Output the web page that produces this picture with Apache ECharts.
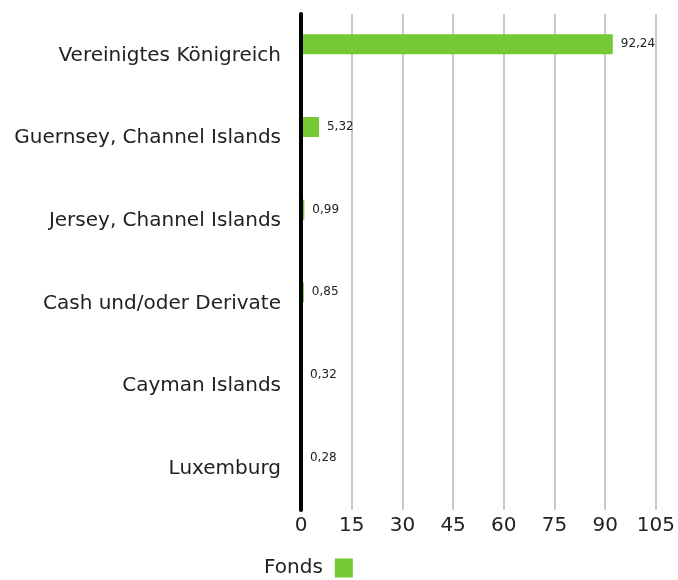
<!DOCTYPE html>
<html>
<head>
<meta charset="utf-8">
<script src="https://cdn.jsdelivr.net/npm/echarts@6/dist/echarts.min.js"></script>
<style>
  html, body { margin: 0; padding: 0; background: #fff; }
  #chart { width: 678px; height: 580px; }
</style>
</head>
<body>
<div id="chart"></div>
<script>
// Länderallokation des Fonds (in %)
const categories = [
  'Vereinigtes Königreich',
  'Guernsey, Channel Islands',
  'Jersey, Channel Islands',
  'Cash und/oder Derivate',
  'Cayman Islands',
  'Luxemburg'
];
const fondsValues = [92.24, 5.32, 0.99, 0.85, 0.32, 0.28];
const xTicks = [0, 15, 30, 45, 60, 75, 90, 105];

const fmt = v => v.toFixed(2).replace('.', ',');
const font = '"DejaVu Sans", sans-serif';

const chart = echarts.init(document.getElementById('chart'));
chart.setOption({
  animation: false,
  textStyle: { fontFamily: font },
  grid: { left: 301, right: 21, top: 14, bottom: 70, containLabel: false },
  legend: {
    data: ['Fonds'],
    bottom: 2,
    left: 264,
    padding: 0,
    align: 'right',
    itemWidth: 18,
    itemHeight: 19,
    icon: 'rect',
    textStyle: { fontSize: 20, color: '#222', fontFamily: font, padding: [2, 7, 0, 0] }
  },
  xAxis: {
    type: 'value',
    min: xTicks[0],
    max: xTicks[xTicks.length - 1],
    interval: 15,
    axisLine: { show: false },
    axisTick: { show: false },
    splitLine: { show: true, lineStyle: { color: '#c8c8c8', width: 2 } },
    axisLabel: { fontSize: 20, color: '#222', margin: 6, fontFamily: font }
  },
  yAxis: {
    type: 'category',
    data: categories,
    inverse: true,
    z: 5,
    axisLine: { show: true, lineStyle: { color: '#000', width: 4 } },
    axisTick: { show: false },
    axisLabel: { fontSize: 20, color: '#222', margin: 20, fontFamily: font }
  },
  series: [
    {
      name: 'Fonds',
      type: 'bar',
      data: fondsValues,
      barWidth: 20,
      barGap: '10%',
      itemStyle: { color: '#74c935' },
      label: {
        show: true,
        position: 'right',
        distance: 8,
        fontSize: 12,
        color: '#222',
        fontFamily: font,
        formatter: p => fmt(p.value)
      }
    },
    {
      name: 'Vergleichsindex',
      type: 'bar',
      data: [],
      barWidth: 20
    }
  ]
});
</script>
</body>
</html>
